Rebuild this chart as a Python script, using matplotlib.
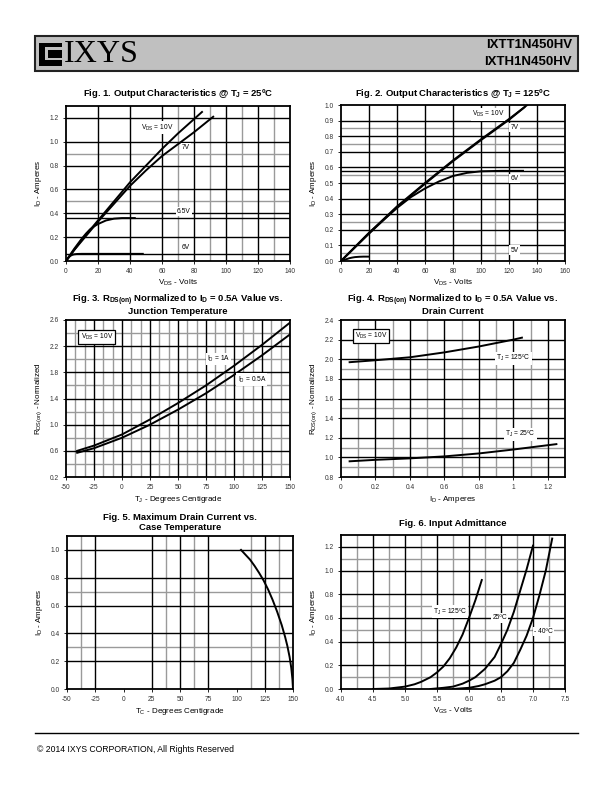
import matplotlib
matplotlib.use('Agg')
import matplotlib.pyplot as plt
from matplotlib.patches import Rectangle

plt.rcParams['font.family'] = ['Liberation Sans', 'DejaVu Sans']
plt.rcParams['mathtext.default'] = 'regular'
plt.rcParams['lines.solid_joinstyle'] = 'round'

# ---- data ----
# Fig 1: output characteristics @ 25C
f1_v10_x = [0, 5, 10, 20, 30, 40, 50, 60, 70, 80, 85]
f1_v10_y = [0, 0.09, 0.18, 0.34, 0.50, 0.66, 0.80, 0.94, 1.07, 1.19, 1.25]
f1_v7_x = [0, 5, 10, 20, 30, 40, 50, 60, 70, 80, 92]
f1_v7_y = [0, 0.09, 0.17, 0.33, 0.48, 0.63, 0.76, 0.88, 0.98, 1.08, 1.21]
f1_v65_x = [0, 2.5, 5, 7.5, 10, 12.5, 15, 17.5, 20, 22.5, 25, 30, 35, 43]
f1_v65_y = [0, 0.05, 0.10, 0.145, 0.19, 0.23, 0.265, 0.29, 0.31, 0.325, 0.34, 0.355, 0.36, 0.36]
f1_v6_x = [0, 1, 2, 3, 4, 5, 7, 10, 48]
f1_v6_y = [0, 0.02, 0.035, 0.045, 0.052, 0.056, 0.059, 0.06, 0.06]

# Fig 2: output characteristics @ 125C
f2_v10_x = [0, 20, 40, 60, 80, 100, 120, 133]
f2_v10_y = [0, 0.18, 0.35, 0.50, 0.645, 0.78, 0.91, 1.0]
f2_v7_x = [0, 20, 40, 60, 80, 100, 120, 131]
f2_v7_y = [0, 0.175, 0.345, 0.495, 0.64, 0.775, 0.905, 0.985]
f2_v6_x = [0, 10, 20, 30, 40, 50, 60, 70, 80, 90, 100, 115, 130]
f2_v6_y = [0, 0.09, 0.18, 0.26, 0.34, 0.41, 0.465, 0.51, 0.545, 0.565, 0.575, 0.578, 0.578]
f2_v5_x = [0, 2, 4, 6, 8, 10, 13, 16, 20]
f2_v5_y = [0, 0.006, 0.012, 0.018, 0.022, 0.025, 0.027, 0.028, 0.028]

# Fig 3: Rds(on) vs junction temperature
f3_t = [-40, -25, 0, 25, 50, 75, 100, 125, 150]
f3_id1 = [0.60, 0.68, 0.85, 1.08, 1.33, 1.60, 1.90, 2.22, 2.56]
f3_id05 = [0.57, 0.64, 0.80, 1.00, 1.23, 1.48, 1.76, 2.06, 2.38]

# Fig 4: Rds(on) vs drain current
f4_i125 = [0.05, 0.2, 0.4, 0.6, 0.8, 1.0, 1.05]
f4_r125 = [1.97, 1.99, 2.02, 2.07, 2.13, 2.20, 2.22]
f4_i25 = [0.05, 0.2, 0.4, 0.6, 0.8, 1.0, 1.25]
f4_r25 = [0.96, 0.975, 0.99, 1.01, 1.04, 1.08, 1.135]

# Fig 5: maximum drain current vs case temperature
f5_tc = [104, 108, 112, 116, 120, 124, 128, 132, 136, 140, 143, 145, 147, 148.5, 149.5, 150]
f5_id = [1.0, 0.965, 0.93, 0.885, 0.835, 0.78, 0.715, 0.64, 0.555, 0.46, 0.375, 0.31, 0.23,
         0.15, 0.07, 0.0]

# Fig 6: input admittance
f6_v125 = [4.5, 4.75, 5.0, 5.15, 5.25, 5.4, 5.5, 5.6, 5.7, 5.8, 5.9, 6.0, 6.1, 6.2]
f6_i125 = [0.0, 0.004, 0.02, 0.04, 0.06, 0.10, 0.14, 0.19, 0.26, 0.35, 0.46, 0.60, 0.75, 0.92]
f6_v25 = [5.4, 5.6, 5.75, 5.9, 6.0, 6.1, 6.25, 6.4, 6.5, 6.6, 6.7, 6.8, 6.9, 7.0]
f6_i25 = [0.0, 0.01, 0.02, 0.045, 0.07, 0.10, 0.17, 0.27, 0.38, 0.50, 0.65, 0.83, 1.01, 1.21]
f6_vm40 = [5.75, 6.0, 6.15, 6.25, 6.4, 6.5, 6.6, 6.7, 6.8, 6.9, 7.0, 7.1, 7.2, 7.3]
f6_im40 = [0.0, 0.01, 0.025, 0.04, 0.07, 0.10, 0.15, 0.22, 0.33, 0.45, 0.60, 0.79, 1.0, 1.27]

W, H = 612, 792
fig = plt.figure(figsize=(W / 100, H / 100), dpi=100)


def box(x0, y0, x1, y1):
    # pixel box -> figure fraction rect
    return [x0 / W, 1 - y1 / H, (x1 - x0) / W, (y1 - y0) / H]


def setup(ax, xlim, ylim, xticks, yticks, xlabels, ylabels, blk_v, gry_v, blk_h, gry_h):
    ax.set_xlim(*xlim)
    ax.set_ylim(*ylim)
    for v in gry_v:
        ax.axvline(v, color='#9a9a9a', lw=1.0, zorder=1)
    for h in gry_h:
        ax.axhline(h, color='#9a9a9a', lw=1.0, zorder=1)
    for v in blk_v:
        ax.axvline(v, color='black', lw=1.0, zorder=1.5)
    for h in blk_h:
        ax.axhline(h, color='black', lw=1.0, zorder=1.5)
    ax.set_xticks(xticks)
    ax.set_yticks(yticks)
    ax.set_xticklabels(xlabels, fontsize=4.8, color='#333333')
    ax.set_yticklabels(ylabels, fontsize=4.8, color='#333333')
    ax.tick_params(length=2, width=0.6, pad=3)
    for s in ax.spines.values():
        s.set_linewidth(1.3)


def lbl(ax, x, y, s, size=4.8):
    ax.text(x, y, s, fontsize=size, ha='center', va='center', zorder=4,
            bbox=dict(fc='white', ec='none', pad=0.8))


title_kw = dict(fontsize=6.8, fontweight='bold', ha='center', va='center',
                family=['Liberation Sans Narrow', 'Liberation Sans'])
axlab = 5.8
clw = 1.4

# ---------- Fig 1 ----------
ax1 = fig.add_axes(box(66, 106, 290, 261))
setup(ax1, (0, 140), (0, 1.3), range(0, 141, 20), [0, 0.2, 0.4, 0.6, 0.8, 1.0, 1.2],
      [str(v) for v in range(0, 141, 20)], ['0.0', '0.2', '0.4', '0.6', '0.8', '1.0', '1.2'],
      [20, 40, 60, 80, 100, 120], [70, 90, 110, 130],
      [0.2, 0.36, 0.4, 0.6, 0.8, 1.0, 1.2], [0.5, 0.9])
ax1.axhline(0.06, color='black', lw=1.0, zorder=1.5)
for xs, ys in [(f1_v10_x, f1_v10_y), (f1_v7_x, f1_v7_y), (f1_v65_x, f1_v65_y), (f1_v6_x, f1_v6_y)]:
    ax1.plot(xs, ys, color='black', lw=clw, zorder=3)
lbl(ax1, 57, 1.12, r'V$_{DS}$ = 10V')
lbl(ax1, 75, 0.95, '7V')
lbl(ax1, 73.5, 0.415, '6.5V')
lbl(ax1, 75, 0.11, '6V')
ax1.set_xlabel(r'V$_{DS}$ - Volts', fontsize=axlab, labelpad=2)
ax1.set_ylabel(r'I$_{D}$ - Amperes', fontsize=axlab, labelpad=4)
fig.text(178 / W, 1 - 94 / H, r'Fig. 1. Output Characteristics @ T$_J$ = 25ºC', **title_kw)

# ---------- Fig 2 ----------
ax2 = fig.add_axes(box(341, 105, 565, 261))
setup(ax2, (0, 160), (0, 1.0), range(0, 161, 20), [i / 10 for i in range(11)],
      [str(v) for v in range(0, 161, 20)], ['%.1f' % (i / 10) for i in range(11)],
      [20, 40, 60, 80, 100, 120, 140], [110],
      [i / 10 for i in range(1, 10)] + [0.58], [0.05, 0.25, 0.55, 0.75, 0.85])
for xs, ys in [(f2_v10_x, f2_v10_y), (f2_v7_x, f2_v7_y), (f2_v6_x, f2_v6_y), (f2_v5_x, f2_v5_y)]:
    ax2.plot(xs, ys, color='black', lw=clw, zorder=3)
lbl(ax2, 105, 0.94, r'V$_{DS}$ = 10V')
lbl(ax2, 124, 0.855, '7V')
lbl(ax2, 124, 0.53, '6V')
lbl(ax2, 124, 0.07, '5V')
ax2.set_xlabel(r'V$_{DS}$ - Volts', fontsize=axlab, labelpad=2)
ax2.set_ylabel(r'I$_{D}$ - Amperes', fontsize=axlab, labelpad=4)
fig.text(453 / W, 1 - 94 / H, r'Fig. 2. Output Characteristics @ T$_J$ = 125ºC', **title_kw)

# ---------- Fig 3 ----------
ax3 = fig.add_axes(box(66, 320, 290, 477))
t_maj = list(range(-50, 151, 25))
t_min = [-50 + 25 * k / 3 for k in range(25) if k % 3 != 0]
setup(ax3, (-50, 150), (0.2, 2.6), t_maj, [0.2, 0.6, 1.0, 1.4, 1.8, 2.2, 2.6],
      [str(v) for v in t_maj], ['0.2', '0.6', '1.0', '1.4', '1.8', '2.2', '2.6'],
      t_maj[1:-1], t_min, [0.6, 1.0, 1.4, 1.8, 2.2], [0.4, 0.8, 1.2, 1.6, 2.0, 2.4])
ax3.plot(f3_t, f3_id1, color='black', lw=clw, zorder=3)
ax3.plot(f3_t, f3_id05, color='black', lw=clw, zorder=3)
ax3.text(-37, 2.34, r'V$_{DS}$ = 10V', fontsize=4.8, ha='left', va='center', zorder=4,
         bbox=dict(fc='white', ec='black', lw=0.9, pad=1.5))
lbl(ax3, 86, 2.0, r'I$_D$ = 1A')
lbl(ax3, 116, 1.69, r'I$_D$ = 0.5A')
ax3.set_xlabel(r'T$_J$ - Degrees Centigrade', fontsize=axlab, labelpad=2)
ax3.set_ylabel(r'R$_{DS(on)}$ - Normalized', fontsize=axlab, labelpad=4)
fig.text(178 / W, 1 - 300 / H, r'Fig. 3. R$_{DS(on)}$ Normalized to I$_D$ = 0.5A Value vs.', **title_kw)
fig.text(178 / W, 1 - 312 / H, 'Junction Temperature', **title_kw)

# ---------- Fig 4 ----------
ax4 = fig.add_axes(box(341, 320, 565, 477))
setup(ax4, (0, 1.3), (0.8, 2.4), [0, 0.2, 0.4, 0.6, 0.8, 1.0, 1.2],
      [0.8, 1.0, 1.2, 1.4, 1.6, 1.8, 2.0, 2.2, 2.4],
      ['0', '0.2', '0.4', '0.6', '0.8', '1', '1.2'],
      ['0.8', '1.0', '1.2', '1.4', '1.6', '1.8', '2.0', '2.2', '2.4'],
      [0.2, 0.4, 0.6, 0.8, 1.0, 1.2], [0.1, 0.3, 0.5, 0.7, 0.9, 1.1],
      [1.0, 1.2, 1.4, 1.6, 1.8, 2.0, 2.2], [0.9, 1.1, 1.5, 1.9])
ax4.plot(f4_i125, f4_r125, color='black', lw=clw, zorder=3)
ax4.plot(f4_i25, f4_r25, color='black', lw=clw, zorder=3)
ax4.text(0.08, 2.24, r'V$_{DS}$ = 10V', fontsize=4.8, ha='left', va='center', zorder=4,
         bbox=dict(fc='white', ec='black', lw=0.9, pad=1.5))
lbl(ax4, 1.0, 2.01, r'T$_J$ = 125ºC')
lbl(ax4, 1.04, 1.235, r'T$_J$ = 25ºC')
ax4.set_xlabel(r'I$_D$ - Amperes', fontsize=axlab, labelpad=2)
ax4.set_ylabel(r'R$_{DS(on)}$ - Normalized', fontsize=axlab, labelpad=4)
fig.text(453 / W, 1 - 300 / H, r'Fig. 4. R$_{DS(on)}$ Normalized to I$_D$ = 0.5A Value vs.', **title_kw)
fig.text(453 / W, 1 - 312 / H, 'Drain Current', **title_kw)

# ---------- Fig 5 ----------
ax5 = fig.add_axes(box(67, 536, 293, 689))
setup(ax5, (-50, 150), (0, 1.1), t_maj, [0, 0.2, 0.4, 0.6, 0.8, 1.0],
      [str(v) for v in t_maj], ['0.0', '0.2', '0.4', '0.6', '0.8', '1.0'],
      [-25, 25, 50, 75, 125], [-37.5, 37.5, 62.5, 112.5, 137.5],
      [0.2, 0.4, 0.6, 0.8, 1.0], [0.3, 0.7])
ax5.plot(f5_tc, f5_id, color='black', lw=clw, zorder=3)
ax5.set_xlabel(r'T$_C$ - Degrees Centigrade', fontsize=axlab, labelpad=2)
ax5.set_ylabel(r'I$_D$ - Amperes', fontsize=axlab, labelpad=4)
fig.text(180 / W, 1 - 517 / H, 'Fig. 5. Maximum Drain Current vs.', **title_kw)
fig.text(180 / W, 1 - 528 / H, 'Case Temperature', **title_kw)

# ---------- Fig 6 ----------
ax6 = fig.add_axes(box(341, 535, 565, 689))
v_maj = [4.0, 4.5, 5.0, 5.5, 6.0, 6.5, 7.0, 7.5]
setup(ax6, (4.0, 7.5), (0, 1.3), v_maj, [0, 0.2, 0.4, 0.6, 0.8, 1.0, 1.2],
      ['%.1f' % v for v in v_maj], ['0.0', '0.2', '0.4', '0.6', '0.8', '1.0', '1.2'],
      v_maj[1:-1], [4.25, 4.75, 5.25, 5.75, 6.25, 6.75, 7.25],
      [0.2, 0.4, 0.6, 0.8, 1.0, 1.2], [0.1, 0.5, 0.7, 1.1])
ax6.plot(f6_v125, f6_i125, color='black', lw=clw, zorder=3)
ax6.plot(f6_v25, f6_i25, color='black', lw=clw, zorder=3)
ax6.plot(f6_vm40, f6_im40, color='black', lw=clw, zorder=3)
lbl(ax6, 5.7, 0.655, r'T$_J$ = 125ºC')
lbl(ax6, 6.48, 0.6, '25ºC')
lbl(ax6, 7.16, 0.486, '- 40ºC')
ax6.set_xlabel(r'V$_{GS}$ - Volts', fontsize=axlab, labelpad=2)
ax6.set_ylabel(r'I$_D$ - Amperes', fontsize=axlab, labelpad=4)
fig.text(453 / W, 1 - 523 / H, 'Fig. 6. Input Admittance', **title_kw)

# ---------- header ----------
fig.patches.append(Rectangle((35 / W, 1 - 71 / H), 543 / W, 35 / H, transform=fig.transFigure,
                             fc='#c0c0c0', ec='#222222', lw=1.5))
# logo icon
fig.patches.append(Rectangle((39 / W, 1 - 66 / H), 23 / W, 23 / H, transform=fig.transFigure,
                             fc='black', ec='none'))
fig.patches.append(Rectangle((45 / W, 1 - 60 / H), 17 / W, 13 / H, transform=fig.transFigure,
                             fc='#c0c0c0', ec='none'))
fig.patches.append(Rectangle((48 / W, 1 - 58 / H), 14 / W, 8 / H, transform=fig.transFigure,
                             fc='black', ec='none'))
fig.text(64 / W, 1 - 54 / H, 'IXYS', fontsize=23, family='Liberation Serif',
         ha='left', va='center', color='black')
fig.text(572 / W, 1 - 45 / H, 'IXTT1N450HV', fontsize=9.5, fontweight='bold', ha='right', va='center')
fig.text(572 / W, 1 - 62 / H, 'IXTH1N450HV', fontsize=9.5, fontweight='bold', ha='right', va='center')

# ---------- footer ----------
fig.add_artist(plt.Line2D([35 / W, 578 / W], [1 - 733 / H, 1 - 733 / H], color='black', lw=1.0))
fig.text(37 / W, 1 - 750 / H, '© 2014 IXYS CORPORATION, All Rights Reserved', fontsize=6.2,
         ha='left', va='center')

fig.savefig('out.png', dpi=100, facecolor='white')
